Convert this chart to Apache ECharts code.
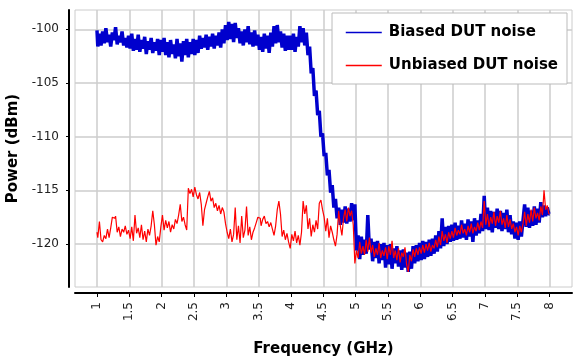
<!DOCTYPE html>
<html><head><meta charset="utf-8">
<script src="https://cdn.jsdelivr.net/npm/echarts@6/dist/echarts.min.js"></script>
<style>html,body{margin:0;padding:0;background:#fff}#c{width:582px;height:364px}</style>
</head><body><div id="c"></div>
<script>
const seriesNames = ['Biased DUT noise', 'Unbiased DUT noise'];
// sampling grid of the frequency sweep (GHz)
const freqStart = 1.0, freqStep = 0.025;
const xTicks = [1, 1.5, 2, 2.5, 3, 3.5, 4, 4.5, 5, 5.5, 6, 6.5, 7, 7.5, 8];
const yTicks = [-120, -115, -110, -105, -100];

const biased = [
-100.1,-101.6,-100.4,-101.5,-100.2,-101.3,-99.9,-101.2,-100.5,-101.6,-100.3,-101.0,-99.8,-101.4,-100.6,-101.2,-100.2,-101.5,-100.8,-101.7,
-100.6,-101.8,-100.4,-102.0,-100.9,-101.9,-100.5,-102.1,-101.0,-101.8,-100.7,-102.3,-101.1,-101.9,-100.8,-102.2,-101.2,-102.0,-100.9,-102.4,
-101.0,-102.1,-100.8,-102.4,-101.2,-102.6,-101.0,-102.3,-101.4,-102.7,-100.9,-102.5,-101.3,-103.0,-101.1,-102.4,-100.9,-102.6,-101.2,-102.3,
-100.9,-102.4,-101.0,-102.2,-100.6,-101.8,-100.8,-101.7,-100.5,-101.9,-100.7,-101.6,-100.4,-101.8,-100.6,-101.5,-100.3,-101.7,-100.0,-101.3,
-99.6,-101.0,-99.3,-100.9,-99.5,-101.2,-99.4,-100.8,-99.9,-101.3,-100.2,-101.5,-100.0,-101.2,-99.7,-101.4,-100.3,-101.6,-100.1,-101.5,
-100.5,-101.9,-100.7,-102.1,-100.4,-101.8,-100.6,-102.2,-100.3,-101.6,-99.7,-101.3,-99.6,-101.2,-100.2,-101.7,-100.4,-102.0,-100.6,-101.9,
-100.6,-101.9,-100.4,-102.1,-100.7,-101.6,-99.7,-101.2,-99.9,-101.5,-100.3,-102.4,-101.6,-104.1,-103.6,-106.2,-105.7,-108.0,-107.6,-110.0,
-109.7,-111.8,-111.5,-113.6,-113.1,-115.2,-114.5,-116.6,-115.8,-117.6,-116.6,-118.2,-116.8,-118.0,-116.5,-118.1,-116.7,-117.9,-116.2,-117.8,
-116.3,-120.6,-119.2,-121.4,-119.3,-121.0,-119.6,-120.9,-117.3,-120.5,-119.5,-121.6,-119.8,-121.3,-119.7,-121.8,-120.0,-121.5,-119.9,-122.2,
-120.1,-121.9,-120.0,-122.3,-120.4,-121.8,-120.2,-122.1,-120.6,-122.4,-120.5,-122.2,-120.8,-122.6,-120.7,-122.3,-120.2,-121.8,-120.1,-121.6,
-119.9,-121.5,-119.7,-121.4,-119.8,-121.2,-119.6,-121.1,-119.5,-120.9,-119.2,-120.7,-118.8,-120.4,-117.6,-120.2,-118.4,-120.0,-118.3,-119.8,
-118.2,-119.7,-118.0,-119.6,-118.3,-119.5,-117.8,-119.4,-118.1,-119.6,-117.7,-119.3,-117.9,-119.8,-117.6,-119.2,-117.8,-119.0,-117.2,-118.8,
-115.5,-118.6,-116.6,-118.7,-116.9,-118.9,-117.0,-118.5,-116.7,-118.6,-116.9,-118.8,-117.1,-118.6,-116.8,-118.9,-117.3,-119.1,-117.9,-119.5,
-118.0,-119.6,-117.9,-119.3,-117.8,-116.3,-118.4,-116.6,-118.5,-116.9,-118.3,-116.5,-118.2,-116.7,-118.0,-116.1,-117.5,-116.4,-117.4,-116.6,
-117.2
];

const unbiased = [
-118.9,-119.4,-117.9,-119.6,-119.8,-119.2,-119.5,-118.6,-119.4,-118.5,-117.5,-117.6,-117.4,-118.9,-118.4,-119.3,-118.6,-118.9,-118.3,-119.1,
-118.7,-119.5,-118.4,-119.7,-117.3,-119.0,-118.5,-119.4,-118.2,-119.6,-118.8,-119.8,-118.6,-119.2,-118.3,-116.9,-118.2,-120.1,-119.3,-119.8,
-118.4,-117.3,-118.7,-117.8,-118.5,-117.9,-118.9,-118.2,-118.6,-117.7,-118.1,-117.3,-116.3,-117.9,-117.5,-118.2,-118.7,-114.8,-115.3,-114.9,
-115.6,-114.7,-115.4,-115.8,-115.2,-116.3,-118.3,-116.8,-116.2,-115.6,-115.1,-116.0,-115.7,-116.6,-116.2,-116.9,-116.4,-117.2,-116.6,-117.0,
-118.1,-118.9,-119.5,-118.6,-119.8,-119.1,-116.6,-119.6,-118.3,-119.9,-117.4,-119.4,-118.7,-116.5,-119.2,-118.4,-119.6,-118.9,-118.5,-118.0,
-117.5,-117.6,-118.3,-117.7,-117.4,-118.1,-117.9,-118.4,-118.0,-118.6,-119.2,-118.3,-116.8,-116.0,-117.2,-119.3,-118.7,-119.6,-119.0,-119.8,
-120.4,-119.1,-119.7,-118.8,-119.9,-119.2,-120.1,-118.9,-116.0,-117.2,-116.4,-118.6,-117.6,-119.3,-118.2,-118.9,-117.8,-118.6,-116.2,-115.9,
-116.8,-117.5,-118.8,-117.6,-119.4,-118.3,-118.9,-119.6,-120.2,-119.1,-116.9,-118.3,-119.2,-117.6,-116.8,-117.9,-116.6,-117.4,-116.9,-118.2,
-121.8,-120.6,-121.3,-119.8,-120.9,-120.2,-121.0,-119.6,-120.7,-119.4,-120.8,-120.1,-121.2,-120.4,-121.0,-119.9,-121.3,-120.6,-121.1,-120.3,
-121.4,-120.2,-121.0,-119.7,-121.3,-120.6,-121.5,-120.4,-121.7,-120.8,-121.2,-120.3,-121.9,-122.6,-121.0,-121.6,-120.5,-121.2,-120.4,-121.0,
-120.3,-120.9,-120.1,-120.8,-120.0,-120.6,-119.9,-120.7,-120.1,-120.4,-119.6,-120.3,-119.3,-120.1,-118.8,-119.7,-119.1,-119.9,-118.9,-119.5,
-118.8,-119.4,-118.5,-119.2,-118.7,-119.1,-118.2,-119.0,-118.6,-119.2,-118.3,-118.9,-118.1,-119.0,-118.4,-118.8,-118.0,-118.7,-117.9,-118.5,
-116.0,-118.2,-117.2,-118.4,-117.5,-118.1,-117.0,-118.3,-117.4,-118.0,-116.9,-118.2,-117.6,-118.5,-117.3,-118.4,-117.7,-118.6,-118.1,-118.9,
-118.4,-119.2,-118.3,-118.9,-118.1,-117.0,-118.3,-117.2,-118.0,-116.8,-117.9,-116.6,-117.6,-117.1,-117.8,-116.5,-117.3,-115.0,-116.8,-116.4,
-117.2
];

const FONT = 'DejaVu Sans';
const freqOf = i => +(freqStart + i * freqStep).toFixed(3);
const toPairs = arr => arr.map((v, i) => [freqOf(i), v]);

const chart = echarts.init(document.getElementById('c'), null, { renderer: 'canvas' });
chart.setOption({
  animation: false,
  backgroundColor: '#ffffff',
  grid: { left: 75, right: 10, top: 10, bottom: 77, containLabel: false, outerBoundsMode: 'none',
          show: true, borderColor: '#cccccc', borderWidth: 1, backgroundColor: '#ffffff' },
  legend: {
    orient: 'vertical', right: 15, top: 13,
    padding: [12, 9, 11, 13], itemGap: 18, itemWidth: 36, itemHeight: 14,
    backgroundColor: '#ffffff', borderColor: '#bbbbbb', borderWidth: 1,
    lineStyle: { width: 1.5 },
    itemStyle: { color: 'rgba(0,0,0,0)', borderWidth: 0, borderColor: 'rgba(0,0,0,0)' },
    textStyle: { fontFamily: FONT, fontWeight: 'bold', fontSize: 15, color: '#000', padding: [0, 0, 0, 2] },
    data: seriesNames
  },
  xAxis: {
    type: 'value', min: 0.66, max: 8.345, splitNumber: 15, offset: 6,
    name: 'Frequency (GHz)', nameLocation: 'middle', nameGap: 49,
    nameTextStyle: { fontFamily: FONT, fontWeight: 'bold', fontSize: 15, color: '#000' },
    axisLine: { show: true, onZero: false, lineStyle: { color: '#000', width: 2 } },
    axisTick: { show: true, length: 4, customValues: xTicks, lineStyle: { color: '#000', width: 1 } },
    axisLabel: { customValues: xTicks, rotate: 90, margin: 9, fontFamily: FONT, fontSize: 12, color: '#222' },
    splitLine: { show: true, lineStyle: { color: '#cccccc', width: 1.5 } }
  },
  yAxis: {
    type: 'value', min: -124, max: -98.2, offset: 6,
    name: 'Power (dBm)', nameLocation: 'middle', nameGap: 39,
    nameTextStyle: { fontFamily: FONT, fontWeight: 'bold', fontSize: 15, color: '#000' },
    axisLine: { show: true, onZero: false, lineStyle: { color: '#000', width: 2 } },
    axisTick: { show: true, length: 3, customValues: yTicks, lineStyle: { color: '#000', width: 1 } },
    axisLabel: { customValues: yTicks, margin: 10, fontFamily: FONT, fontSize: 12, color: '#222' },
    splitLine: { show: true, lineStyle: { color: '#cccccc', width: 1.5 } }
  },
  series: [
    { name: seriesNames[0], type: 'line', data: toPairs(biased), symbol: 'none', step: 'middle',
      lineStyle: { color: '#0000cd', width: 3.5 }, itemStyle: { color: '#0000cd' }, z: 2 },
    { name: seriesNames[1], type: 'line', data: toPairs(unbiased), symbol: 'none', step: 'middle',
      lineStyle: { color: '#ff0000', width: 1.2 }, itemStyle: { color: '#ff0000' }, z: 3 }
  ]
});
</script>
</body></html>
